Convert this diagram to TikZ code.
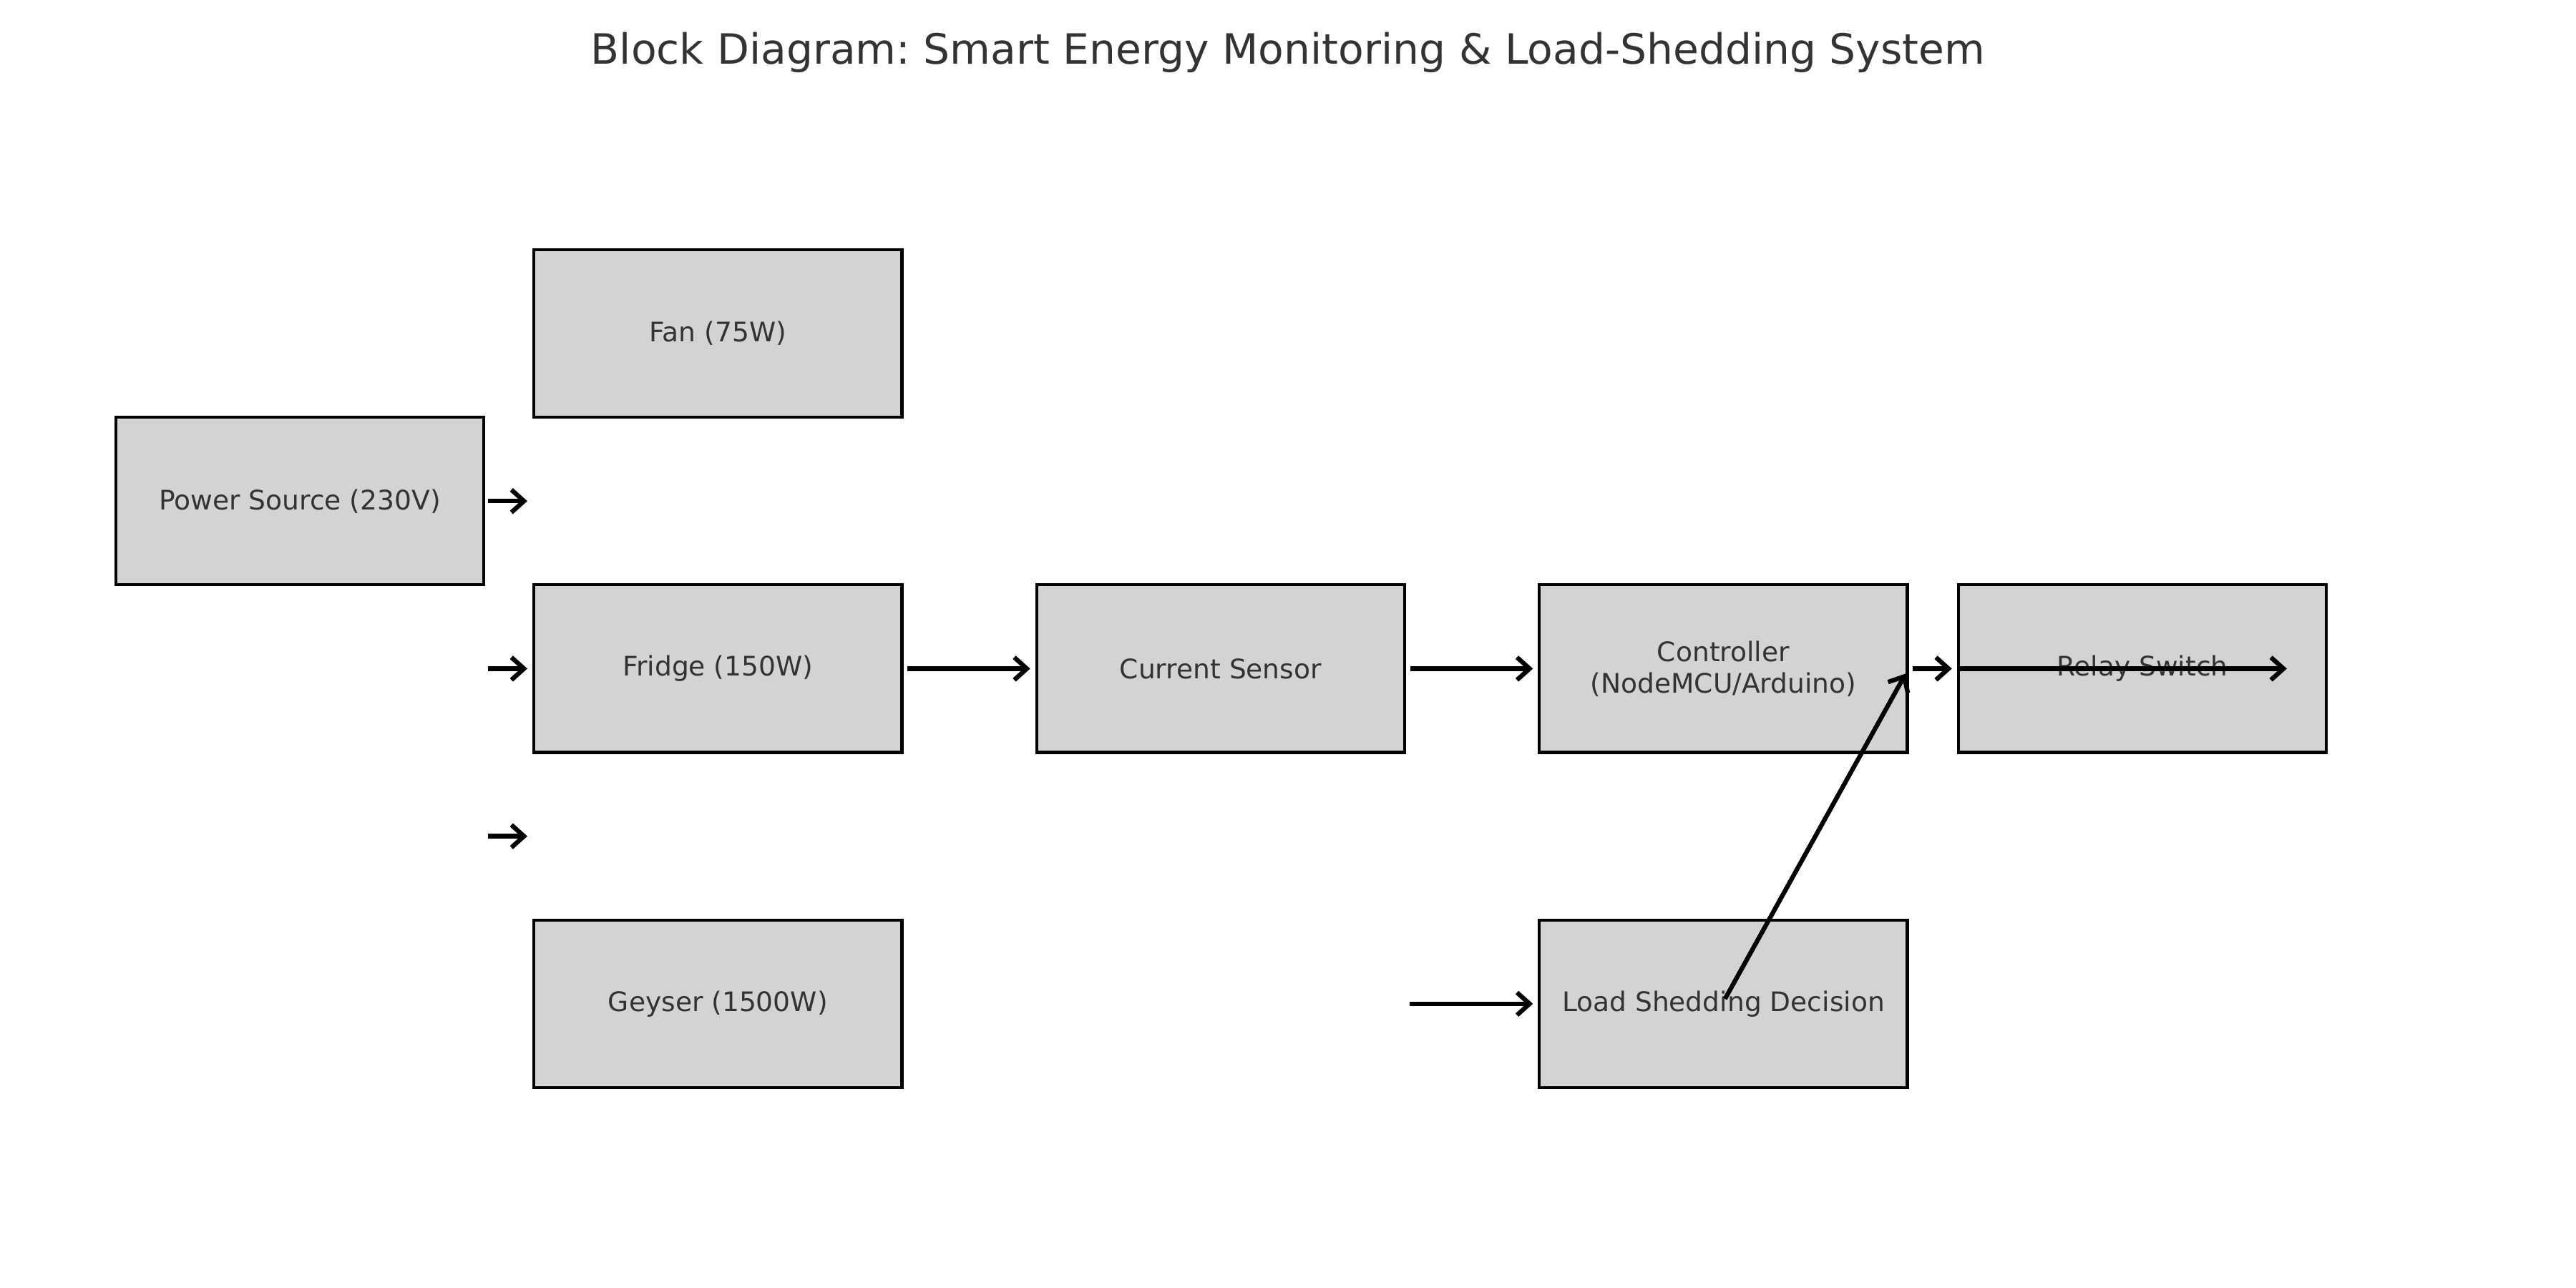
\documentclass[tikz,border=0pt]{standalone}
\usepackage{fontspec}
\setmainfont{DejaVu Sans}
\usetikzlibrary{arrows.meta}
\definecolor{txt}{HTML}{333333}
\definecolor{boxfill}{HTML}{D3D3D3}
\frenchspacing
\begin{document}
\begin{tikzpicture}[x=0.022959cm,y=-0.022959cm,
  blk/.style={draw=black,fill=boxfill,line width=1.2pt,minimum width=224*0.022959cm,minimum height=102*0.022959cm,inner sep=0pt,
    text=txt,font=\fontsize{10.7}{12.6}\selectfont,align=center},
  conn/.style={line width=1.8pt,-{Straight Barb[length=5pt,width=9pt,line width=1.8pt]}}]
\useasboundingbox (0,0) rectangle (1568,784);
\node[text=txt,font=\fontsize{16.6}{20}\selectfont] (title) at (784,32) {Block Diagram: Smart Energy Monitoring \& Load-Shedding System};
\node[blk] (ps) at (182.5,305) {Power Source (230V)};
\node[blk] (fan) at (437,203) {Fan (75W)};
\node[blk] (fridge) at (437,407) {Fridge (150W)};
\node[blk] (geyser) at (437,611) {Geyser (1500W)};
\node[blk] (cs) at (743,407) {Current Sensor};
\node[blk] (ctrl) at (1049,407) {Controller\\(NodeMCU/Arduino)};
\node[blk] (relay) at (1304,407) {Relay Switch};
\node[blk] (lsd) at (1049,611) {Load Shedding Decision};
% free ends
\coordinate (a1s) at (297,305); \coordinate (a1e) at (321,305);
\coordinate (a2s) at (297,407); \coordinate (a2e) at (321,407);
\coordinate (a3s) at (297,509); \coordinate (a3e) at (321,509);
\coordinate (a7e) at (1392,407);
\coordinate (a8s) at (858,611);
\coordinate (a9s) at (1050,608);
\coordinate (a9e) at (1160,410);
\draw[conn] (a1s) -- (a1e);
\draw[conn] (a2s) -- (a2e);
\draw[conn] (a3s) -- (a3e);
\draw[conn,shorten <=2.5*0.022959cm,shorten >=3*0.022959cm] (fridge.east) -- (cs.west);
\draw[conn,shorten <=2.5*0.022959cm,shorten >=3*0.022959cm] (cs.east) -- (ctrl.west);
\draw[conn,shorten <=2.5*0.022959cm,shorten >=3*0.022959cm] (ctrl.east) -- (relay.west);
\draw[conn,shorten <=2*0.022959cm] (relay.west) -- (a7e);
\draw[conn,shorten >=3*0.022959cm] (a8s) -- (lsd.west);
\draw[conn] (a9s) -- (a9e);
\end{tikzpicture}
\end{document}
